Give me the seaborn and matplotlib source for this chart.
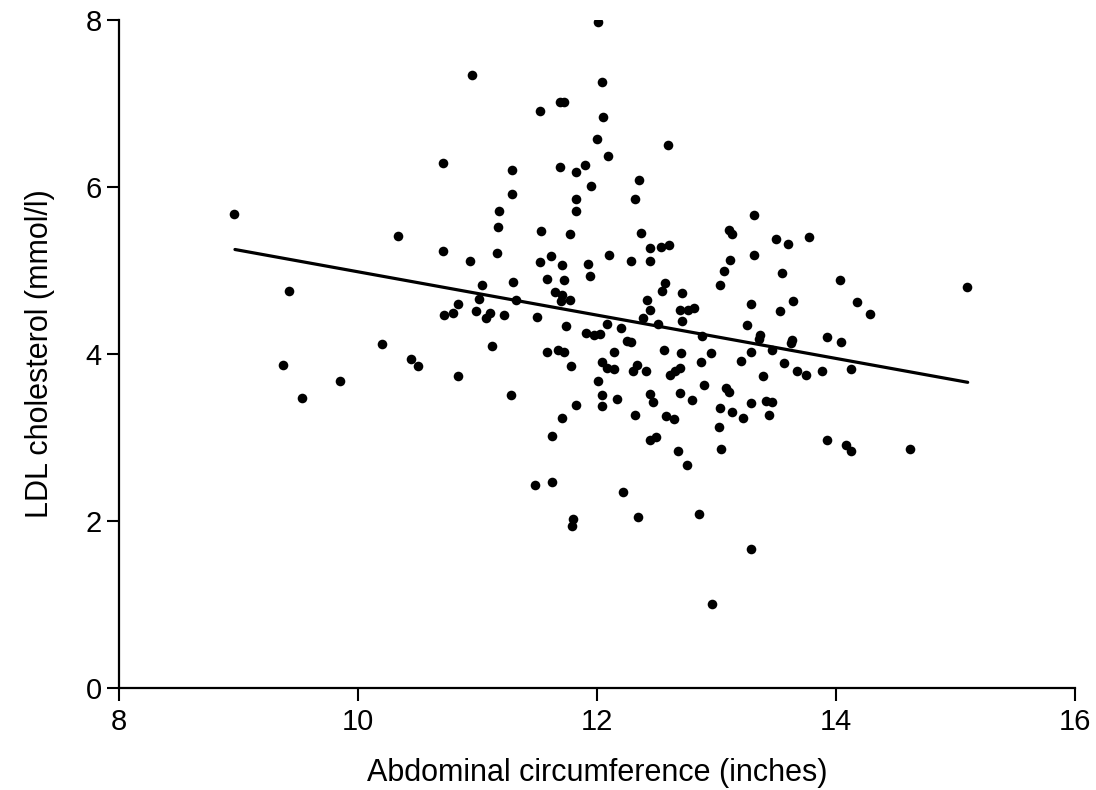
import pandas as pd
import matplotlib.pyplot as plt
import seaborn as sns

# data
abdominal = [10.71, 8.96, 10.33, 10.71, 9.42, 10.72, 10.79, 10.20, 10.44, 10.50,
             9.37, 9.85, 9.53, 10.84,
             12.01, 10.95, 12.04, 11.69, 11.72, 11.52, 12.05, 12.00, 12.09, 11.69,
             11.90, 11.82, 11.29, 11.95, 11.29, 11.82, 11.82, 11.18, 11.17, 11.53,
             11.77, 11.16, 10.94, 11.61, 11.52, 11.71, 11.92, 12.10, 11.94, 11.58,
             11.72, 11.04, 11.30, 11.65, 11.71, 11.70, 11.77, 11.01, 11.32, 10.84,
             10.99, 11.10, 11.07, 11.22, 11.50, 11.74, 12.08,
             11.91, 11.97, 12.02, 11.12, 11.58, 11.67, 11.72, 11.78, 12.04, 12.08,
             12.01, 11.28, 12.04, 12.04, 11.82, 11.71, 11.62, 11.48, 11.62, 11.80,
             11.79,
             12.59, 12.35, 12.32, 12.37, 13.10, 13.13, 13.31, 13.50, 12.44, 12.53,
             12.60, 12.28, 12.44, 13.11, 13.31, 13.06, 13.55, 12.57, 12.54, 12.71,
             13.03, 12.42, 12.44, 12.69, 12.76, 12.81, 13.29, 12.38, 12.71, 12.51,
             12.20, 13.25,
             12.88, 13.36, 13.35, 12.25, 12.28, 12.14, 12.56, 12.70, 12.95, 13.29,
             12.87, 13.20, 12.14, 12.33, 12.30, 12.41, 12.61, 12.65, 12.69, 13.39,
             12.89, 13.08, 13.10, 12.44, 12.47, 12.69, 12.79, 12.17, 13.03, 13.13,
             13.22, 13.29, 13.41, 13.46, 13.44, 13.02, 12.32, 12.58, 12.64, 13.04,
             12.44, 12.49, 12.68, 12.75, 12.22, 12.34, 12.85, 13.29, 12.96,
             13.77, 13.60, 14.03, 13.64, 13.53, 14.17, 14.28, 13.63, 13.62, 13.92,
             14.04, 13.46, 13.56, 13.67, 13.75, 13.88, 14.12, 13.92, 14.08, 14.12,
             14.62, 15.09]

ldl = [6.29, 5.68, 5.41, 5.23, 4.75, 4.47, 4.49, 4.12, 3.94, 3.85,
       3.87, 3.68, 3.47, 3.73,
       7.97, 7.34, 7.25, 7.02, 7.02, 6.91, 6.83, 6.57, 6.37, 6.24,
       6.26, 6.18, 6.20, 6.01, 5.92, 5.86, 5.71, 5.71, 5.52, 5.47,
       5.43, 5.21, 5.11, 5.17, 5.10, 5.06, 5.08, 5.18, 4.93, 4.90,
       4.88, 4.82, 4.86, 4.74, 4.71, 4.63, 4.64, 4.66, 4.65, 4.60,
       4.51, 4.49, 4.43, 4.46, 4.44, 4.33, 4.36,
       4.25, 4.23, 4.24, 4.10, 4.02, 4.05, 4.02, 3.86, 3.90, 3.83,
       3.68, 3.51, 3.51, 3.38, 3.39, 3.23, 3.02, 2.43, 2.47, 2.02,
       1.94,
       6.50, 6.08, 5.86, 5.45, 5.48, 5.43, 5.66, 5.37, 5.27, 5.28,
       5.30, 5.11, 5.11, 5.13, 5.19, 4.99, 4.97, 4.85, 4.75, 4.73,
       4.82, 4.65, 4.53, 4.52, 4.53, 4.55, 4.60, 4.43, 4.39, 4.36,
       4.31, 4.35,
       4.21, 4.23, 4.18, 4.15, 4.14, 4.02, 4.05, 4.01, 4.01, 4.02,
       3.90, 3.91, 3.82, 3.87, 3.80, 3.80, 3.75, 3.80, 3.83, 3.74,
       3.63, 3.59, 3.54, 3.52, 3.42, 3.53, 3.45, 3.46, 3.35, 3.30,
       3.23, 3.41, 3.44, 3.43, 3.27, 3.12, 3.27, 3.26, 3.22, 2.86,
       2.97, 3.00, 2.84, 2.67, 2.35, 2.05, 2.08, 1.66, 1.01,
       5.40, 5.32, 4.89, 4.63, 4.51, 4.62, 4.48, 4.17, 4.13, 4.20,
       4.14, 4.05, 3.89, 3.80, 3.75, 3.79, 3.82, 2.97, 2.91, 2.84,
       2.86, 4.80]

# fitted line as drawn in the figure
fit_x = [8.97, 15.10]
fit_y = [5.25, 3.66]

x_ticks = [8, 10, 12, 14, 16]
y_ticks = [0, 2, 4, 6, 8]

df = pd.DataFrame({'abdominal': abdominal, 'ldl': ldl})
fit_df = pd.DataFrame({'x': fit_x, 'y': fit_y})

sns.set_style('ticks')
plt.rcParams['font.family'] = ['Liberation Sans', 'DejaVu Sans']
plt.rcParams['text.color'] = 'black'
plt.rcParams['axes.labelcolor'] = 'black'
plt.rcParams['xtick.color'] = 'black'
plt.rcParams['ytick.color'] = 'black'

fig = plt.figure(figsize=(10.96, 7.9), dpi=100)
ax = fig.add_axes([0.1086, 0.129, 0.8725, 0.846])

sns.scatterplot(data=df, x='abdominal', y='ldl', color='black', s=48,
                edgecolor='black', linewidth=0, ax=ax, zorder=3)
sns.lineplot(data=fit_df, x='x', y='y', color='black', linewidth=2.3, ax=ax)

ax.set_xlim(8, 16)
ax.set_ylim(0, 8)
ax.set_xticks(x_ticks)
ax.set_yticks(y_ticks)
ax.set_xlabel('Abdominal circumference (inches)', fontsize=22, labelpad=16)
ax.set_ylabel('LDL cholesterol (mmol/l)', fontsize=22, labelpad=22)
ax.tick_params(axis='both', labelsize=21, length=9, width=1.5)
ax.tick_params(axis='x', pad=5)
sns.despine(ax=ax)
for side in ['left', 'bottom']:
    ax.spines[side].set_linewidth(1.6)
    ax.spines[side].set_color('black')

plt.savefig('out.png', dpi=100)
